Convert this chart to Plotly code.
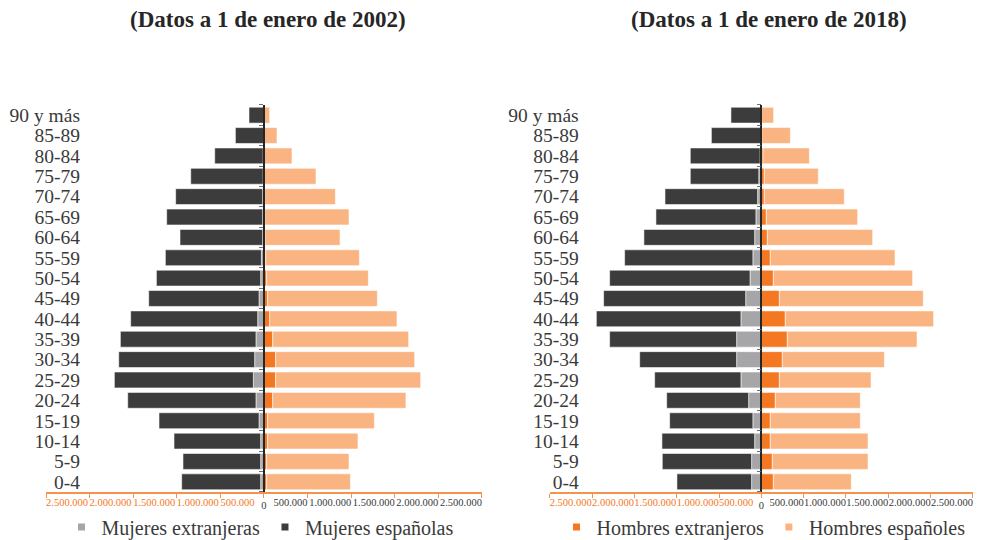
import plotly.graph_objects as go

# ---------------- data ----------------
age_groups = ["0-4", "5-9", "10-14", "15-19", "20-24", "25-29", "30-34", "35-39",
              "40-44", "45-49", "50-54", "55-59", "60-64", "65-69", "70-74",
              "75-79", "80-84", "85-89", "90 y más"]

# 2002
mujeres_extranjeras_2002 = [38000, 38000, 38000, 57000, 92000, 122000, 107000, 92000, 72000, 57000,
                            38000, 30000, 15000, 15000, 15000, 10000, 10000, 5000, 5000]
mujeres_espanolas_2002 = [906000, 891000, 994000, 1147000, 1471000, 1594000, 1559000, 1555000, 1457000, 1265000,
                          1196000, 1101000, 948000, 1101000, 998000, 830000, 555000, 323000, 167000]
hombres_extranjeros_2002 = [31000, 31000, 42000, 42000, 100000, 134000, 134000, 100000, 65000, 42000,
                            31000, 20000, 12000, 10000, 8000, 6000, 4000, 2000, 1000]
hombres_espanoles_2002 = [960000, 944000, 1036000, 1224000, 1528000, 1663000, 1594000, 1559000, 1460000, 1258000,
                          1166000, 1074000, 860000, 965000, 811000, 590000, 317000, 147000, 64000]

# 2018
mujeres_extranjeras_2018 = [115000, 115000, 79000, 100000, 150000, 241000, 292000, 292000, 241000, 185000,
                            134000, 100000, 79000, 64000, 44000, 30000, 15000, 5000, 3000]
mujeres_espanolas_2018 = [882000, 1055000, 1095000, 983000, 968000, 1019000, 1145000, 1500000, 1708000, 1678000,
                          1658000, 1515000, 1308000, 1181000, 1094000, 809000, 824000, 585000, 356000]
hombres_extranjeros_2018 = [142000, 130000, 106000, 106000, 165000, 213000, 248000, 307000, 283000, 213000,
                            142000, 106000, 71000, 59000, 35000, 35000, 20000, 5000, 3000]
hombres_espanoles_2018 = [921000, 1130000, 1154000, 1063000, 1004000, 1083000, 1205000, 1532000, 1752000, 1700000,
                          1645000, 1473000, 1244000, 1078000, 945000, 638000, 547000, 338000, 142000]

tick_values = [-2500000, -2000000, -1500000, -1000000, -500000, 0, 500000, 1000000, 1500000, 2000000, 2500000]
tick_labels = ["2.500.000", "2.000.000", "1.500.000", "1.000.000", "500.000", "0",
               "500.000", "1.000.000", "1.500.000", "2.000.000", "2.500.000"]

titles = ["(Datos a 1 de enero de 2002)", "(Datos a 1 de enero de 2018)"]

# ---------------- style ----------------
C_MUJ_EXT = "#A6A6A8"
C_MUJ_ESP = "#3C3C3C"
C_HOM_EXT = "#F47721"
C_HOM_ESP = "#F9B482"
C_AXIS = "#F4934E"
C_TEXT = "#3A3A3A"
SERIF = "Liberation Serif"

neg_vals = [v for v in tick_values if v < 0]
neg_text = [t for v, t in zip(tick_values, tick_labels) if v < 0]
pos_vals = [v for v in tick_values if v > 0]
pos_text = [t for v, t in zip(tick_values, tick_labels) if v > 0]
zero_text = [t if v == 0 else "" for v, t in zip(tick_values, tick_labels)]

fig = go.Figure()

panels = [
    ("x", "y", mujeres_extranjeras_2002, mujeres_espanolas_2002,
     hombres_extranjeros_2002, hombres_espanoles_2002),
    ("x2", "y2", mujeres_extranjeras_2018, mujeres_espanolas_2018,
     hombres_extranjeros_2018, hombres_espanoles_2018),
]

bar_line = dict(color="rgba(255,255,255,0.7)", width=0.8)

for xa, ya, mext, mesp, hext, hesp in panels:
    fig.add_trace(go.Bar(y=age_groups, x=[-v for v in mext], orientation="h", xaxis=xa, yaxis=ya,
                         marker=dict(color=C_MUJ_EXT, line=bar_line), showlegend=False,
                         name="Mujeres extranjeras"))
    fig.add_trace(go.Bar(y=age_groups, x=[-v for v in mesp], orientation="h", xaxis=xa, yaxis=ya,
                         marker=dict(color=C_MUJ_ESP, line=bar_line), showlegend=False,
                         name="Mujeres españolas"))
    fig.add_trace(go.Bar(y=age_groups, x=hext, orientation="h", xaxis=xa, yaxis=ya,
                         marker=dict(color=C_HOM_EXT, line=bar_line), showlegend=False,
                         name="Hombres extranjeros"))
    fig.add_trace(go.Bar(y=age_groups, x=hesp, orientation="h", xaxis=xa, yaxis=ya,
                         marker=dict(color=C_HOM_ESP, line=bar_line), showlegend=False,
                         name="Hombres españoles"))

# legend entries (left panel: women, right panel: men)
legend_items = [
    ("x", "y3", "legend", "Mujeres extranjeras", C_MUJ_EXT),
    ("x", "y3", "legend", "Mujeres españolas", C_MUJ_ESP),
    ("x2", "y4", "legend2", "Hombres extranjeros", C_HOM_EXT),
    ("x2", "y4", "legend2", "Hombres españoles", C_HOM_ESP),
]
for xa, ya, lg, nm, col in legend_items:
    fig.add_trace(go.Scatter(x=[None], y=[None], mode="markers", xaxis=xa, yaxis=ya, legend=lg,
                             name=nm, marker=dict(symbol="square", size=7, color=col)))

# empty traces that register the overlay axes used for the tick labels
for xa, ya in [("x3", "y"), ("x5", "y"), ("x4", "y2"), ("x6", "y2")]:
    fig.add_trace(go.Scatter(x=[None], y=[None], mode="markers", xaxis=xa, yaxis=ya,
                             showlegend=False, hoverinfo="skip"))

dom_left = [0.0468, 0.4903]
dom_right = [0.5592, 0.9898]
dom_y = [0.0889, 0.8056]
XR = [-2500000, 2500000]
TICK_SIZE = 10.5

def xaxis_cfg(dom, anchor):
    return dict(domain=dom, range=XR, anchor=anchor,
                tickmode="array", tickvals=tick_values, ticktext=zero_text, tickangle=0,
                tickfont=dict(family=SERIF, size=TICK_SIZE, color=C_TEXT), ticklabelstandoff=-1,
                showgrid=False, zeroline=False, showline=True, linecolor=C_AXIS, linewidth=1.5,
                ticks="outside", ticklen=4, tickcolor=C_AXIS, tickwidth=1, fixedrange=True)

def xlab_cfg(over, anchor, vals, text, color, pos):
    return dict(overlaying=over, anchor=anchor, range=XR, tickmode="array",
                tickvals=vals, ticktext=text, tickangle=0, ticklabelposition=pos,
                ticklabelstandoff=3,
                tickfont=dict(family=SERIF, size=TICK_SIZE, color=color),
                showgrid=False, zeroline=False, showline=False, ticks="", fixedrange=True)

def ycat_cfg(anchor, standoff):
    return dict(domain=dom_y, type="category", categoryarray=age_groups, categoryorder="array",
                tickmode="array", tickvals=age_groups, ticktext=age_groups,
                range=[-0.5, 18.5], anchor=anchor, showline=False, ticks="", showgrid=False,
                zeroline=False, tickfont=dict(family=SERIF, size=19.5, color=C_TEXT),
                ticklabelstandoff=standoff, fixedrange=True)

def yzero_cfg(over, dom):
    return dict(overlaying=over, anchor="free", position=(dom[0] + dom[1]) / 2,
                range=[-0.5, 18.5], tickmode="linear", tick0=-0.5, dtick=1,
                ticks="outside", ticklen=4, tickcolor="#6E6E6E", tickwidth=1,
                showticklabels=False, showline=True, linecolor="#262626", linewidth=1.5,
                showgrid=False, zeroline=False, fixedrange=True)

fig.update_layout(
    width=983, height=540,
    margin=dict(l=0, r=0, t=0, b=0, autoexpand=False),
    paper_bgcolor="white", plot_bgcolor="white",
    barmode="relative", bargap=0.22,
    xaxis=xaxis_cfg(dom_left, "y"),
    xaxis2=xaxis_cfg(dom_right, "y2"),
    xaxis3=xlab_cfg("x", "y", neg_vals, neg_text, C_HOM_EXT, "outside right"),
    xaxis5=xlab_cfg("x", "y", pos_vals, pos_text, C_TEXT, "outside left"),
    xaxis4=xlab_cfg("x2", "y2", neg_vals, neg_text, C_HOM_EXT, "outside right"),
    xaxis6=xlab_cfg("x2", "y2", pos_vals, pos_text, C_TEXT, "outside left"),
    yaxis=ycat_cfg("x", -35),
    yaxis2=ycat_cfg("x2", -30),
    yaxis3=yzero_cfg("y", dom_left),
    yaxis4=yzero_cfg("y2", dom_right),
    legend=dict(orientation="h", x=0.2645, xanchor="center", y=0.024, yanchor="middle",
                font=dict(family=SERIF, size=20, color=C_TEXT), bgcolor="rgba(0,0,0,0)",
                itemwidth=30),
    legend2=dict(orientation="h", x=0.7767, xanchor="center", y=0.024, yanchor="middle",
                 font=dict(family=SERIF, size=20, color=C_TEXT), bgcolor="rgba(0,0,0,0)",
                 itemwidth=30),
    annotations=[
        dict(text="<b>%s</b>" % titles[0], x=0.2726, y=0.9648, xref="paper", yref="paper",
             xanchor="center", yanchor="middle", showarrow=False,
             font=dict(family=SERIF, size=23, color="#262626")),
        dict(text="<b>%s</b>" % titles[1], x=0.7823, y=0.9648, xref="paper", yref="paper",
             xanchor="center", yanchor="middle", showarrow=False,
             font=dict(family=SERIF, size=23, color="#262626")),
    ],
)

fig.write_html("out.html", config={"displayModeBar": False},
               post_script="document.body.style.margin='0';document.body.style.overflow='hidden';")
